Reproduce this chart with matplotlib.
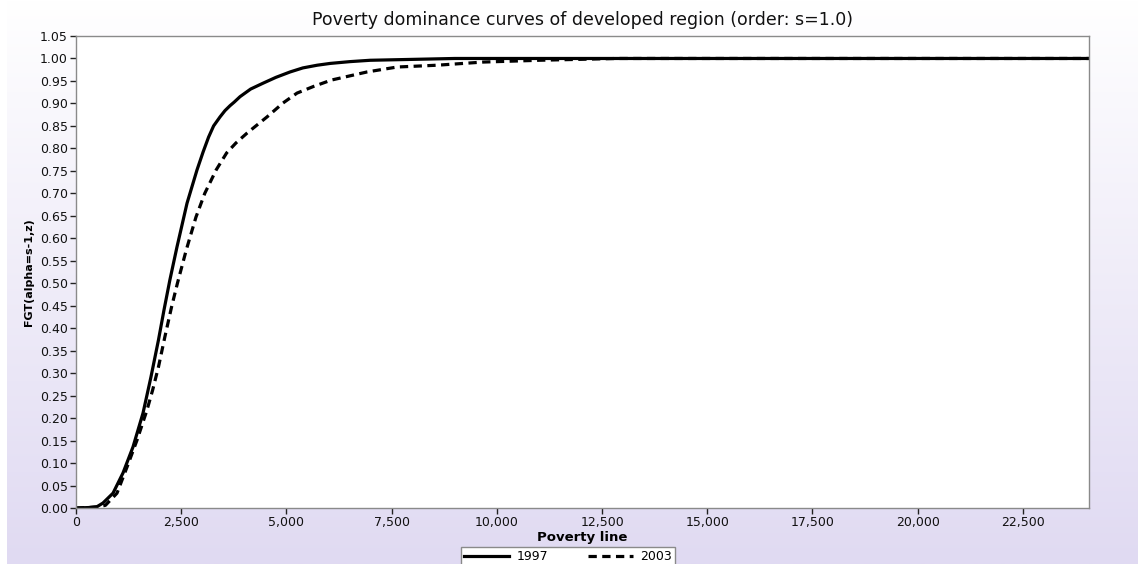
import numpy as np
import matplotlib
matplotlib.use("Agg")
import matplotlib.pyplot as plt
from matplotlib.lines import Line2D
from matplotlib.ticker import FuncFormatter, MultipleLocator

# Poverty line (z) and FGT values
Z_1997 = [0, 300, 500, 640, 880, 1117, 1355, 1592, 1780, 1960, 2090, 2230, 2400,
          2638, 2875, 3020, 3150, 3270, 3422, 3540, 3660, 3760, 3897, 4150, 4444,
          4750, 5086, 5390, 5730, 6040, 6510, 6990, 8000, 9000, 24070]
FGT_1997 = [0.0, 0.001, 0.003, 0.011, 0.033, 0.078, 0.136, 0.211, 0.291, 0.374,
            0.440, 0.507, 0.581, 0.678, 0.752, 0.792, 0.825, 0.850, 0.870, 0.884,
            0.895, 0.903, 0.915, 0.932, 0.945, 0.958, 0.970, 0.979, 0.985, 0.989,
            0.993, 0.996, 0.998, 1.0, 1.0]

Z_2003 = [0, 300, 500, 700, 974, 1212, 1450, 1687, 1820, 1960, 2110, 2270, 2410,
          2620, 2850, 3060, 3330, 3580, 3800, 4064, 4539, 4920, 5252, 5650, 6070,
          6915, 7630, 8580, 9670, 11000, 12860, 24070]
FGT_2003 = [0.0, 0.001, 0.002, 0.006, 0.033, 0.091, 0.151, 0.218, 0.262, 0.314,
            0.380, 0.447, 0.500, 0.574, 0.647, 0.700, 0.752, 0.790, 0.812, 0.834,
            0.870, 0.901, 0.923, 0.938, 0.952, 0.970, 0.981, 0.985, 0.992, 0.996,
            1.0, 1.0]

YEARS = ["1997", "2003"]
X_MAX = 24070

DASH = (2.6, 1.7)

fig = plt.figure(figsize=(11.38, 5.64), dpi=100)

# lavender gradient background (white strip on the far left)
bg = fig.add_axes([7 / 1138, 0, 1 - 7 / 1138, 1], zorder=-10)
top = np.array([255, 255, 255]) / 255
bot = np.array([224, 218, 242]) / 255
t = np.linspace(0, 1, 256)[:, None, None]
grad = top * (1 - t) + bot * t
bg.imshow(grad, aspect="auto", extent=[0, 1, 0, 1], origin="upper")
bg.axis("off")

ax = fig.add_axes([76 / 1138, 1 - 508 / 564, (1089 - 76) / 1138, (508 - 36) / 564])
ax.set_facecolor("white")

ax.plot(Z_1997, FGT_1997, color="black", lw=2.3)
ax.plot(Z_2003, FGT_2003, color="black", lw=2.3, dashes=DASH)

ax.set_xlim(0, X_MAX)
ax.set_ylim(0, 1.05)
ax.xaxis.set_major_locator(MultipleLocator(2500))
ax.yaxis.set_major_locator(MultipleLocator(0.05))
ax.xaxis.set_major_formatter(FuncFormatter(lambda v, p: f"{v:,.0f}"))
ax.yaxis.set_major_formatter(FuncFormatter(lambda v, p: f"{v:.2f}"))
ax.tick_params(axis="both", direction="out", length=4, width=1, color="#222222",
               labelsize=9, labelcolor="#111111", pad=2)
for sp in ax.spines.values():
    sp.set_color("#8a8a8a")
    sp.set_linewidth(1.0)

ax.set_title("Poverty dominance curves of developed region (order: s=1.0)",
             fontsize=12.5, pad=8, color="#111111")
ax.set_xlabel("Poverty line", fontsize=9.5, fontweight="bold", labelpad=1)
ax.set_ylabel("FGT(alpha=s-1,z)", fontsize=8, fontweight="bold", labelpad=4)

handles = [Line2D([], [], color="black", lw=2.3),
           Line2D([], [], color="black", lw=2.3, dashes=DASH)]
leg = fig.legend(handles, YEARS, loc="upper center", ncol=2,
                 bbox_to_anchor=(568 / 1138, 1 - 547 / 564),
                 fontsize=9, frameon=True, fancybox=False, framealpha=1,
                 edgecolor="#8a8a8a", handlelength=3.6, columnspacing=3.2,
                 borderpad=0.25, handletextpad=0.6, borderaxespad=0)
leg.get_frame().set_linewidth(1.0)

fig.savefig("out.png", dpi=100)
